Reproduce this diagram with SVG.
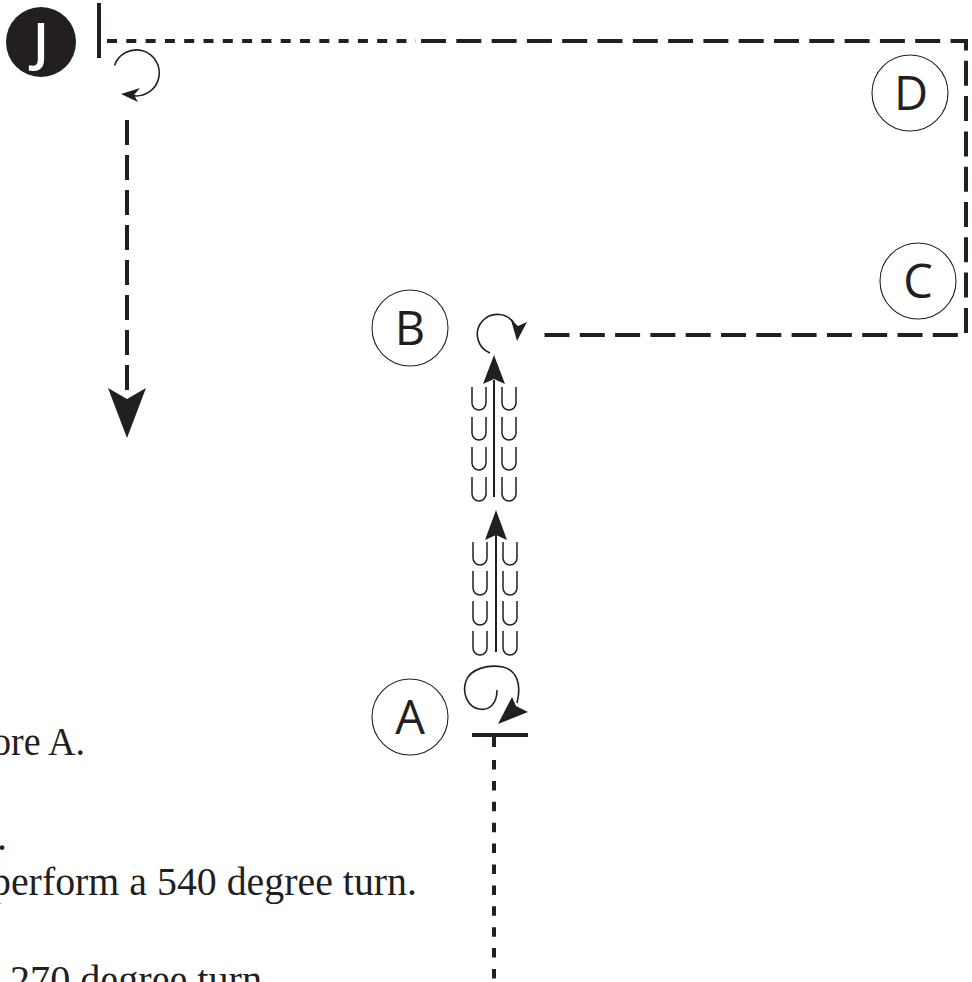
<svg xmlns="http://www.w3.org/2000/svg" width="972" height="982" viewBox="0 0 972 982">
<style>
  .dash { fill: none; stroke: #231f20; stroke-width: 4; }
  .solid { fill: none; stroke: #231f20; stroke-width: 4; }
  .thin { fill: none; stroke: #231f20; stroke-width: 1.6; }
  .u { fill: none; stroke: #231f20; stroke-width: 1.5; }
  .head { fill: #231f20; stroke: none; }
  .ring { fill: #ffffff; stroke: #231f20; stroke-width: 1.1; }
  .lbl { font-family: "Open Sans", "Liberation Sans", sans-serif; font-size: 47px; fill: #231f20; text-anchor: middle; }
  .body { font-family: "Liberation Serif", "DejaVu Serif", serif; font-size: 40px; fill: #231f20; }
</style>
<rect width="972" height="982" fill="#ffffff"/>

<g id="connectors">
  <path class="dash" d="M107,41 H416" stroke-dasharray="10 9.3"/>
  <path class="dash" d="M421,41 H966 V335 H537" stroke-dasharray="25 10.3"/>
  <path class="dash" d="M127,120 V392" stroke-dasharray="25 10"/>
  <polygon class="head" points="127,438 108,388 127,399 146,388"/>
  <line class="solid" x1="99" y1="3" x2="99" y2="58"/>
  <path class="thin" d="M114.5,65.5 A23,23 0 1 1 132,95.5"/>
  <polygon class="head" points="121,94 140,88 134,95 138,102"/>
  <path class="thin" d="M490,353 A20,20 0 1 1 515,325"/>
  <polygon class="head" points="517,341 511,320 518,326 527,322"/>
  <path class="thin" d="M497,690 C497,704 489,711 479,709 C467,707 462,692 466,681 C470,669 488,664 503,667 C516,670 522,683 517,703"/>
  <polygon class="head" points="498,724 512,697 516,706 528,712"/>
  <line class="solid" x1="472" y1="735" x2="528" y2="735"/>
  <line class="solid" x1="494" y1="735" x2="494" y2="747"/>
  <path class="dash" d="M494,760 V982" stroke-dasharray="9.5 11.4"/>
  <line x1="494" y1="380" x2="494" y2="497" stroke="#231f20" stroke-width="2"/>
  <polygon class="head" points="494,355 505,384 494,379 483,384"/>
  <line x1="496" y1="535" x2="496" y2="652" stroke="#231f20" stroke-width="2"/>
  <polygon class="head" points="496,510 507,540 496,535 485,540"/>
  <path class="u" d="M472,387 V403 A7,7 0 0 0 486,403 V387 M502,387 V403 A7,7 0 0 0 516,403 V387"/>
  <path class="u" d="M472,417 V433 A7,7 0 0 0 486,433 V417 M502,417 V433 A7,7 0 0 0 516,433 V417"/>
  <path class="u" d="M472,447 V463 A7,7 0 0 0 486,463 V447 M502,447 V463 A7,7 0 0 0 516,463 V447"/>
  <path class="u" d="M472,477 V494 A7,7 0 0 0 486,494 V477 M502,477 V494 A7,7 0 0 0 516,494 V477"/>
  <path class="u" d="M473,542 V558 A7,7 0 0 0 487,558 V542 M503,542 V558 A7,7 0 0 0 517,558 V542"/>
  <path class="u" d="M473,571 V588 A7,7 0 0 0 487,588 V571 M503,571 V588 A7,7 0 0 0 517,588 V571"/>
  <path class="u" d="M473,601 V618 A7,7 0 0 0 487,618 V601 M503,601 V618 A7,7 0 0 0 517,618 V601"/>
  <path class="u" d="M473,631 V648 A7,7 0 0 0 487,648 V631 M503,631 V648 A7,7 0 0 0 517,648 V631"/>
</g>

<g id="node-J">
  <circle cx="41" cy="42" r="35" fill="#231f20"/>
  <text x="41" y="61" font-family="Open Sans, Liberation Sans, sans-serif" font-size="53" font-weight="600" fill="#ffffff" text-anchor="middle">J</text>
</g>
<g id="node-D">
  <circle class="ring" cx="910" cy="93" r="38"/>
  <text class="lbl" x="911" y="110">D</text>
</g>
<g id="node-C">
  <circle class="ring" cx="918" cy="281" r="38"/>
  <text class="lbl" x="918" y="298">C</text>
</g>
<g id="node-B">
  <circle class="ring" cx="410" cy="328" r="38"/>
  <text class="lbl" x="410" y="345">B</text>
</g>
<g id="node-A">
  <circle class="ring" cx="410" cy="717" r="38"/>
  <text class="lbl" x="410" y="734">A</text>
</g>

<g id="text">
  <text class="body" x="-8" y="755" textLength="93" lengthAdjust="spacingAndGlyphs">ore A.</text>
  <text class="body" x="-3" y="850">.</text>
  <text class="body" x="-9" y="895" textLength="426" lengthAdjust="spacingAndGlyphs">perform a 540 degree turn.</text>
  <text class="body" x="10" y="993" textLength="252" lengthAdjust="spacingAndGlyphs">270 degree turn</text>
</g>
</svg>
